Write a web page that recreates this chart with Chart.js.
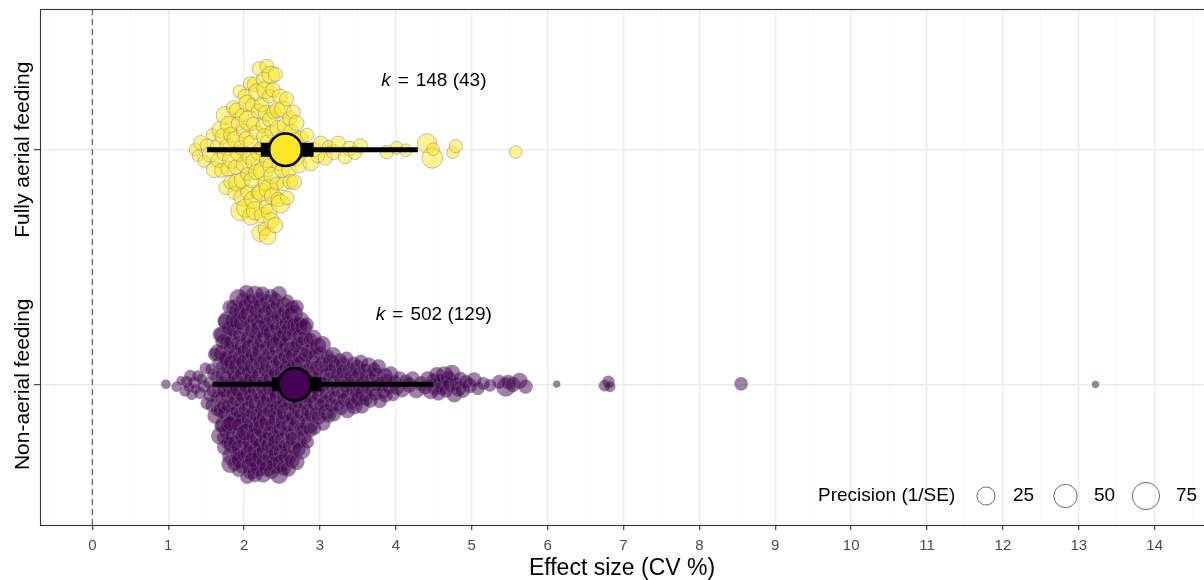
<!DOCTYPE html>
<html>
<head>
<meta charset="utf-8">
<script src="https://cdn.jsdelivr.net/npm/chart.js@4.4.1/dist/chart.umd.min.js"></script>
<style>
  html, body { margin: 0; padding: 0; background: #fff; }
  #wrap { width: 1204px; height: 580px; position: relative; }
</style>
</head>
<body>
<div id="wrap"><canvas id="chart"></canvas></div>
<script>
// Groups (bottom to top on the y axis)
const groups = ['Non-aerial feeding', 'Fully aerial feeding'];
const kEffects = [502, 148];
const kStudies = [129, 43];

// Model estimates: mean, confidence interval, prediction interval
const meanEst = [2.67, 2.545];
const ciLow = [2.365, 2.22];
const ciHigh = [3.02, 2.915];
const piLow = [1.585, 1.51];
const piHigh = [4.49, 4.29];

// Axis ticks and legend breaks
const xTicks = [0, 1, 2, 3, 4, 5, 6, 7, 8, 9, 10, 11, 12, 13, 14];
const precisionBreaks = [25, 50, 75];

// Effect sizes (CV %) and precision (1/SE), Non-aerial feeding
const nonAerialCV = [
  0.97, 1.11, 1.17, 1.22, 1.24, 1.27, 1.29,
  1.31, 1.34, 1.36, 1.39, 1.42, 1.44, 1.47, 1.49,
  1.51, 1.53, 1.55, 1.56, 1.58, 1.59,
  1.60, 1.61, 1.62, 1.63, 1.64, 1.65, 1.65, 1.66, 1.67, 1.68, 1.68, 1.69, 1.69,
  1.70, 1.71, 1.71, 1.72, 1.72, 1.72, 1.73, 1.74, 1.74, 1.75, 1.75, 1.76, 1.76, 1.76, 1.77, 1.78, 1.78, 1.78, 1.79, 1.79, 1.73, 1.70, 1.74, 1.77,
  1.80, 1.80, 1.81, 1.81, 1.81, 1.82, 1.82, 1.83, 1.83, 1.84, 1.84, 1.84, 1.85, 1.85, 1.86, 1.86, 1.86, 1.87, 1.87, 1.88, 1.88, 1.88, 1.89, 1.89, 1.82, 1.85, 1.83, 1.87,
  1.90, 1.90, 1.91, 1.91, 1.91, 1.92, 1.92, 1.93, 1.93, 1.93, 1.94, 1.94, 1.95, 1.95, 1.95, 1.96, 1.96, 1.97, 1.97, 1.97, 1.98, 1.98, 1.99, 1.99, 1.99, 1.92, 1.94, 1.96, 1.93, 1.98,
  2.00, 2.00, 2.01, 2.01, 2.01, 2.02, 2.02, 2.03, 2.03, 2.03, 2.04, 2.04, 2.04, 2.05, 2.05, 2.05, 2.06, 2.06, 2.06, 2.07, 2.07, 2.07, 2.08, 2.08, 2.08, 2.09, 2.09, 2.09, 2.02, 2.05,
  2.10, 2.10, 2.10, 2.11, 2.11, 2.12, 2.12, 2.12, 2.13, 2.13, 2.13, 2.14, 2.14, 2.15, 2.15, 2.15, 2.16, 2.16, 2.16, 2.17, 2.17, 2.18, 2.18, 2.18, 2.19, 2.19, 2.19, 2.11, 2.14, 2.17,
  2.20, 2.20, 2.20, 2.21, 2.21, 2.21, 2.22, 2.22, 2.22, 2.23, 2.23, 2.23, 2.24, 2.24, 2.25, 2.25, 2.25, 2.26, 2.26, 2.26, 2.27, 2.27, 2.28, 2.28, 2.28, 2.29, 2.29, 2.29, 2.24, 2.27,
  2.30, 2.30, 2.31, 2.31, 2.31, 2.32, 2.32, 2.32, 2.33, 2.33, 2.33, 2.34, 2.34, 2.34, 2.35, 2.35, 2.35, 2.36, 2.36, 2.36, 2.37, 2.37, 2.37, 2.38, 2.38, 2.38, 2.39, 2.39, 2.39,
  2.40, 2.40, 2.40, 2.41, 2.41, 2.41, 2.42, 2.42, 2.42, 2.43, 2.43, 2.43, 2.44, 2.44, 2.44, 2.45, 2.45, 2.45, 2.46, 2.46, 2.46, 2.47, 2.47, 2.47, 2.48, 2.48, 2.48, 2.49, 2.49,
  2.50, 2.50, 2.50, 2.51, 2.51, 2.51, 2.52, 2.52, 2.52, 2.53, 2.53, 2.53, 2.54, 2.54, 2.54, 2.55, 2.55, 2.55, 2.56, 2.56, 2.56, 2.57, 2.57, 2.58, 2.58, 2.58, 2.59, 2.59, 2.59,
  2.60, 2.60, 2.60, 2.61, 2.61, 2.61, 2.62, 2.62, 2.63, 2.63, 2.63, 2.64, 2.64, 2.65, 2.65, 2.65, 2.66, 2.66, 2.67, 2.67, 2.67, 2.68, 2.68, 2.69, 2.69, 2.69, 2.62, 2.64,
  2.70, 2.70, 2.71, 2.71, 2.72, 2.72, 2.73, 2.73, 2.74, 2.74, 2.74, 2.75, 2.75, 2.76, 2.76, 2.77, 2.77, 2.78, 2.78, 2.79, 2.79, 2.72, 2.76, 2.71,
  2.80, 2.80, 2.81, 2.82, 2.82, 2.83, 2.84, 2.84, 2.85, 2.86, 2.86, 2.87, 2.88, 2.88, 2.89, 2.89, 2.81, 2.84, 2.87,
  2.90, 2.91, 2.91, 2.92, 2.93, 2.94, 2.94, 2.95, 2.96, 2.97, 2.97, 2.98, 2.99, 2.99,
  3.00, 3.01, 3.02, 3.03, 3.03, 3.04, 3.05, 3.06, 3.07, 3.08, 3.08, 3.09, 3.10, 3.11, 3.12, 3.13, 3.14, 3.15, 3.15, 3.16, 3.17, 3.18, 3.19,
  3.20, 3.21, 3.22, 3.24, 3.25, 3.26, 3.27, 3.28, 3.29, 3.30, 3.31, 3.32, 3.34, 3.35, 3.36, 3.37, 3.38, 3.39,
  3.41, 3.42, 3.43, 3.44, 3.45, 3.46, 3.48, 3.49, 3.50, 3.51, 3.53, 3.54, 3.55, 3.56, 3.57, 3.59,
  3.60, 3.62, 3.63, 3.64, 3.66, 3.67, 3.69, 3.71, 3.72, 3.74, 3.75, 3.77, 3.79, 3.81, 3.83, 3.85, 3.86, 3.88, 3.91, 3.93, 3.96, 3.98,
  4.01, 4.05, 4.08, 4.13, 4.17, 4.22, 4.27, 4.33, 4.38, 4.42, 4.46, 4.49,
  4.51, 4.54, 4.56, 4.59, 4.61, 4.64, 4.66, 4.69, 4.71, 4.74, 4.77, 4.79, 4.82, 4.85, 4.88, 4.92, 4.97,
  5.03, 5.08, 5.15, 5.24, 5.36, 5.45, 5.48, 5.54, 5.63, 5.71,
  6.12, 6.75, 6.80, 6.82, 8.55, 13.22
];
const nonAerialPrec = [
  2, 3, 2, 4, 5, 3, 6,
  4, 7, 3, 5, 6, 4, 8, 5,
  7, 5, 9, 4, 10, 6,
  12, 8, 15, 6, 10, 18, 9, 7, 14, 11, 20, 8, 13,
  16, 9, 12, 22, 7, 14, 11, 25, 8, 13, 17, 10, 19, 6, 15, 12, 28, 9, 14, 11, 18, 10, 13, 16,
  13, 20, 8, 16, 11, 24, 9, 14, 18, 7, 12, 30, 10, 15, 21, 8, 13, 17, 11, 26, 9, 14, 19, 12, 16, 10, 15, 11,
  15, 9, 22, 12, 18, 7, 14, 27, 10, 16, 11, 20, 8, 13, 24, 9, 17, 12, 15, 32, 10, 14, 19, 11, 8, 21, 13, 16, 12, 17,
  11, 18, 9, 14, 25, 12, 16, 8, 20, 13, 10, 29, 15, 11, 17, 9, 22, 14, 12, 19, 8, 16, 26, 10, 13, 18, 11, 15, 23, 9,
  12, 20, 9, 15, 11, 24, 13, 8, 18, 14, 10, 30, 16, 12, 9, 21, 13, 17, 11, 25, 10, 15, 19, 8, 14, 12, 22, 16, 11, 13,
  15, 10, 22, 13, 18, 9, 12, 26, 14, 11, 17, 8, 20, 13, 16, 10, 35, 12, 15, 9, 19, 14, 11, 24, 13, 16, 10, 18, 12, 21,
  13, 17, 10, 22, 12, 15, 9, 19, 14, 11, 27, 13, 8, 16, 12, 20, 10, 15, 18, 11, 24, 14, 9, 13, 17, 12, 21, 10, 16,
  11, 18, 14, 9, 23, 12, 16, 10, 20, 13, 15, 8, 26, 11, 17, 14, 12, 19, 9, 15, 22, 13, 10, 16, 12, 18, 11, 14, 25,
  16, 10, 13, 21, 12, 9, 17, 14, 11, 24, 15, 8, 13, 19, 12, 16, 10, 28, 14, 11, 18, 13, 9, 15, 22, 12, 17, 10, 14,
  12, 19, 10, 15, 13, 23, 9, 16, 11, 14, 20, 12, 8, 17, 13, 26, 10, 15, 11, 18, 14, 9, 21, 12, 16, 13, 10, 14,
  14, 9, 18, 12, 22, 10, 15, 13, 8, 19, 11, 16, 25, 12, 14, 9, 17, 11, 20, 13, 10, 15, 12, 11,
  11, 16, 9, 20, 13, 10, 15, 12, 24, 8, 14, 11, 18, 13, 9, 16, 12, 14, 13,
  13, 10, 17, 12, 9, 21, 14, 11, 15, 8, 19, 12, 10, 16,
  12, 9, 16, 11, 20, 13, 8, 15, 10, 18, 12, 14, 10, 15, 12, 8, 19, 11, 14, 9, 17, 12, 13,
  11, 16, 9, 13, 22, 10, 14, 12, 8, 14, 10, 18, 12, 9, 15, 11, 20, 13,
  9, 16, 12, 10, 19, 13, 11, 15, 13, 10, 17, 11, 14, 9, 21, 12,
  11, 15, 9, 18, 12, 10, 14, 12, 9, 16, 11, 13, 10, 14, 10, 18, 12, 9, 11, 15, 9, 13,
  12, 10, 16, 9, 14, 11, 17, 13, 10, 15, 19, 12,
  22, 14, 11, 17, 13, 25, 10, 16, 12, 18, 14, 9, 15, 11, 13, 10, 14,
  12, 9, 8, 7, 10, 28, 12, 14, 16, 11,
  0.3, 5, 7, 4, 9, 0.3
];

// Effect sizes (CV %) and precision (1/SE), Fully aerial feeding
const aerialCV = [
  1.36, 1.39, 1.43, 1.47,
  1.51, 1.55, 1.58, 1.61, 1.64, 1.66, 1.69,
  1.70, 1.72, 1.73, 1.75, 1.76, 1.78, 1.79,
  1.80, 1.82, 1.83, 1.84, 1.86, 1.87, 1.88, 1.89,
  1.90, 1.91, 1.92, 1.93, 1.94, 1.95, 1.96, 1.97, 1.97, 1.98, 1.99,
  2.00, 2.01, 2.02, 2.03, 2.04, 2.04, 2.05, 2.06, 2.07, 2.08, 2.09, 2.09,
  2.10, 2.11, 2.12, 2.12, 2.13, 2.14, 2.15, 2.16, 2.16, 2.17, 2.18, 2.19, 2.19,
  2.20, 2.21, 2.22, 2.23, 2.23, 2.24, 2.25, 2.25, 2.26, 2.27, 2.27, 2.28, 2.28, 2.29, 2.29,
  2.30, 2.30, 2.31, 2.31, 2.32, 2.33, 2.33, 2.34, 2.34, 2.35, 2.36, 2.36, 2.37, 2.38, 2.38, 2.39,
  2.40, 2.41, 2.41, 2.42, 2.43, 2.44, 2.45, 2.45, 2.46, 2.47, 2.48, 2.49,
  2.50, 2.51, 2.52, 2.54, 2.55, 2.56, 2.57, 2.58, 2.59,
  2.60, 2.61, 2.62, 2.63, 2.65, 2.66, 2.67, 2.68, 2.69,
  2.72, 2.75, 2.78, 2.83, 2.88, 2.92, 2.97, 3.01, 3.07, 3.12, 3.18, 3.24, 3.33, 3.39, 3.46, 3.53,
  3.88, 4.01, 4.13, 4.41, 4.48, 4.49, 4.75, 4.79, 5.58
];
const aerialPrec = [
  8, 5, 12, 7,
  10, 15, 6, 18, 9, 13, 22,
  11, 16, 8, 25, 12, 19, 14,
  20, 10, 15, 28, 12, 9, 17, 13,
  14, 22, 11, 18, 9, 30, 13, 16, 10, 24, 12,
  17, 11, 26, 14, 9, 19, 12, 33, 15, 10, 21, 13,
  16, 12, 23, 10, 18, 14, 27, 11, 15, 20, 9, 13, 17,
  12, 19, 10, 25, 13, 16, 11, 30, 15, 9, 18, 13, 22, 11, 17,
  15, 11, 20, 13, 28, 10, 17, 14, 12, 23, 16, 9, 19, 13, 21, 11,
  18, 12, 15, 24, 10, 16, 13, 20, 11, 14, 27, 12,
  14, 19, 11, 16, 22, 12, 10, 17, 13,
  12, 13, 16, 20, 11, 14, 18, 9, 15,
  18, 12, 14, 10, 16, 13, 11, 15, 12, 10, 14, 12, 11, 13, 10, 12,
  10, 9, 8, 30, 36, 8, 7, 9, 8
];

const FONT = '"Liberation Sans", Arial, Helvetica, sans-serif';
const fillColors = ['rgba(68, 1, 84, 0.5)', 'rgba(253, 231, 37, 0.5)'];
const meanColors = ['#440154', '#FDE725'];

// point radius from precision (area-like scaling)
function precisionRadius(p) {
    return 2.8 + 1.25 * Math.sqrt(p);
}

// Quasirandom swarm offsets (van der Corput sequence scaled by kernel density)
function vanDerCorput(i) {
    let q = 0, bk = 0.5, k = i;
    while (k > 0) {
        q += (k % 2) * bk;
        k = Math.floor(k / 2);
        bk /= 2;
    }
    return q;
}

function quantile(sorted, q) {
    const h = (sorted.length - 1) * q;
    const lo = Math.floor(h);
    const hi = Math.min(lo + 1, sorted.length - 1);
    return sorted[lo] + (h - lo) * (sorted[hi] - sorted[lo]);
}

function bandwidth(values) {
    const n = values.length;
    const mean = values.reduce((a, b) => a + b, 0) / n;
    const sd = Math.sqrt(values.reduce((a, b) => a + (b - mean) ** 2, 0) / (n - 1));
    const sorted = [...values].sort((a, b) => a - b);
    const iqr = quantile(sorted, 0.75) - quantile(sorted, 0.25);
    return 0.9 * Math.min(sd, iqr / 1.34) * Math.pow(n, -0.2);
}

function quasirandomOffsets(values, width, adjust) {
    const bw = bandwidth(values) * adjust;
    const dens = (v) => {
        let s = 0;
        for (const xi of values) {
            const z = (v - xi) / bw;
            s += Math.exp(-0.5 * z * z);
        }
        return s;
    };
    const lo = Math.min(...values) - 3 * bw;
    const hi = Math.max(...values) + 3 * bw;
    let maxD = 0;
    for (let i = 0; i < 1024; i++) {
        maxD = Math.max(maxD, dens(lo + (hi - lo) * i / 1023));
    }
    const order = values.map((v, i) => i).sort((a, b) => values[a] - values[b] || a - b);
    const rank = new Array(values.length);
    order.forEach((idx, r) => { rank[idx] = r + 1; });
    return values.map((v, i) => (vanDerCorput(rank[i]) - 0.5) * 2 * dens(v) / maxD * width);
}

function swarmPoints(cv, prec, groupPos) {
    const off = quasirandomOffsets(cv, 0.4, 0.5);
    return cv.map((v, i) => ({ x: v, y: groupPos + off[i], p: prec[i] }));
}

const swarmSets = [
    swarmPoints(nonAerialCV, nonAerialPrec, 1),
    swarmPoints(aerialCV, aerialPrec, 2)
];

// x grid: major at ticks, minor between
const xGrid = [xTicks[0] - 0.5];
xTicks.forEach(t => { xGrid.push(t, t + 0.5); });

// Datasets
const datasets = [];
groups.forEach((g, i) => {
    datasets.push({
        type: 'scatter',
        label: g + ' mean',
        data: [{ x: meanEst[i], y: i + 1 }],
        pointRadius: 16.3,
        pointBackgroundColor: meanColors[i],
        pointBorderColor: '#000',
        pointBorderWidth: 2.6,
        order: 0
    });
    datasets.push({
        type: 'line',
        label: g + ' CI',
        data: [{ x: ciLow[i], y: i + 1 }, { x: ciHigh[i], y: i + 1 }],
        borderColor: '#000',
        borderWidth: 14,
        pointRadius: 0,
        order: 1
    });
    datasets.push({
        type: 'line',
        label: g + ' PI',
        data: [{ x: piLow[i], y: i + 1 }, { x: piHigh[i], y: i + 1 }],
        borderColor: '#000',
        borderWidth: 5,
        pointRadius: 0,
        order: 2
    });
    datasets.push({
        type: 'scatter',
        label: g,
        data: swarmSets[i],
        pointRadius: (ctx) => precisionRadius(ctx.raw.p),
        pointBackgroundColor: fillColors[i],
        pointBorderColor: 'rgba(120, 120, 120, 0.45)',
        pointBorderWidth: 1,
        order: 3 + (1 - i)
    });
});
datasets.push({
    type: 'line',
    label: 'zero',
    data: [{ x: 0, y: 0.4 }, { x: 0, y: 2.6 }],
    borderColor: '#6b6b6b',
    borderWidth: 1.3,
    borderDash: [6, 4],
    pointRadius: 0,
    order: 9
});

// Extra drawing: panel border, rotated group labels, k labels, precision legend
const decorPlugin = {
    id: 'decor',
    afterDraw(chart) {
        const { ctx, chartArea: a, scales: { x, y } } = chart;
        ctx.save();

        ctx.strokeStyle = '#333';
        ctx.lineWidth = 1.1;
        ctx.strokeRect(a.left + 0.5, a.top + 0.5, a.right - a.left + 4, a.bottom - a.top);

        // group labels
        ctx.fillStyle = '#000';
        ctx.font = '21px ' + FONT;
        ctx.textAlign = 'center';
        ctx.textBaseline = 'middle';
        groups.forEach((g, i) => {
            ctx.save();
            ctx.translate(23, y.getPixelForValue(i + 1));
            ctx.rotate(-Math.PI / 2);
            ctx.fillText(g, 0, 0);
            ctx.restore();
        });

        // k labels
        groups.forEach((g, i) => {
            const rest = kEffects[i] + ' (' + kStudies[i] + ')';
            ctx.font = 'italic 19px ' + FONT;
            const kW = ctx.measureText('k').width;
            ctx.font = '19px ' + FONT;
            const eqW = ctx.measureText('=').width;
            const restW = ctx.measureText(rest).width;
            const gap = 7;
            const total = kW + gap + eqW + gap + restW;
            let px = x.getPixelForValue(4.5) - total / 2;
            const py = y.getPixelForValue(i + 1.3) + 1;
            ctx.textAlign = 'left';
            ctx.font = 'italic 19px ' + FONT;
            ctx.fillText('k', px, py);
            px += kW + gap;
            ctx.font = '19px ' + FONT;
            ctx.fillText('=', px, py);
            px += eqW + gap;
            ctx.fillText(rest, px, py);
        });

        // precision legend
        const ly = 496;
        ctx.font = '19px ' + FONT;
        ctx.textAlign = 'left';
        ctx.fillStyle = '#000';
        ctx.fillText('Precision (1/SE)', 818, ly);
        const keyX = [986, 1065.5, 1146];
        const labX = [1013, 1094, 1176];
        precisionBreaks.forEach((b, i) => {
            ctx.beginPath();
            ctx.arc(keyX[i], ly, precisionRadius(b), 0, Math.PI * 2);
            ctx.strokeStyle = '#6e6e6e';
            ctx.lineWidth = 1;
            ctx.stroke();
            ctx.fillStyle = '#000';
            ctx.fillText(String(b), labX[i], ly);
        });
        ctx.restore();
    }
};

Chart.defaults.font.family = FONT;

new Chart(document.getElementById('chart'), {
    type: 'scatter',
    data: { datasets: datasets },
    options: {
        responsive: true,
        maintainAspectRatio: false,
        animation: false,
        events: [],
        layout: { autoPadding: false, padding: { top: 9, right: 0, left: 0, bottom: 0 } },
        plugins: {
            legend: { display: false },
            tooltip: { enabled: false }
        },
        scales: {
            x: {
                type: 'linear',
                min: -0.69,
                max: 14.65,
                afterBuildTicks: (scale) => { scale.ticks = xGrid.map(v => ({ value: v })); },
                afterFit: (scale) => {
                    scale.height = 55;
                    scale.paddingLeft = 0;
                    scale.paddingRight = 0;
                },
                border: { display: false },
                grid: {
                    color: (ctx) => Number.isInteger(ctx.tick.value) ? '#ebebeb' : '#f4f4f4',
                    lineWidth: (ctx) => Number.isInteger(ctx.tick.value) ? 1.4 : 0.7,
                    tickColor: (ctx) => Number.isInteger(ctx.tick.value) ? '#333' : 'rgba(0,0,0,0)',
                    tickLength: 5,
                    tickWidth: 1.1
                },
                ticks: {
                    autoSkip: false,
                    maxRotation: 0,
                    padding: 7,
                    color: '#4d4d4d',
                    font: { size: 15 },
                    callback: (v) => Number.isInteger(v) ? String(v) : ''
                },
                title: {
                    display: true,
                    text: 'Effect size (CV %)',
                    color: '#000',
                    font: { size: 23 },
                    padding: { top: 0, bottom: -2 }
                }
            },
            y: {
                type: 'linear',
                min: 0.4,
                max: 2.6,
                afterBuildTicks: (scale) => { scale.ticks = [1, 2].map(v => ({ value: v })); },
                afterFit: (scale) => {
                    scale.width = 40;
                    scale.paddingTop = 0;
                    scale.paddingBottom = 0;
                },
                border: { display: false },
                grid: {
                    color: '#ebebeb',
                    lineWidth: 1.4,
                    tickColor: '#333',
                    tickLength: 6,
                    tickWidth: 1.1
                },
                ticks: {
                    padding: 0,
                    callback: () => ''
                }
            }
        }
    },
    plugins: [decorPlugin]
});
</script>
</body>
</html>
